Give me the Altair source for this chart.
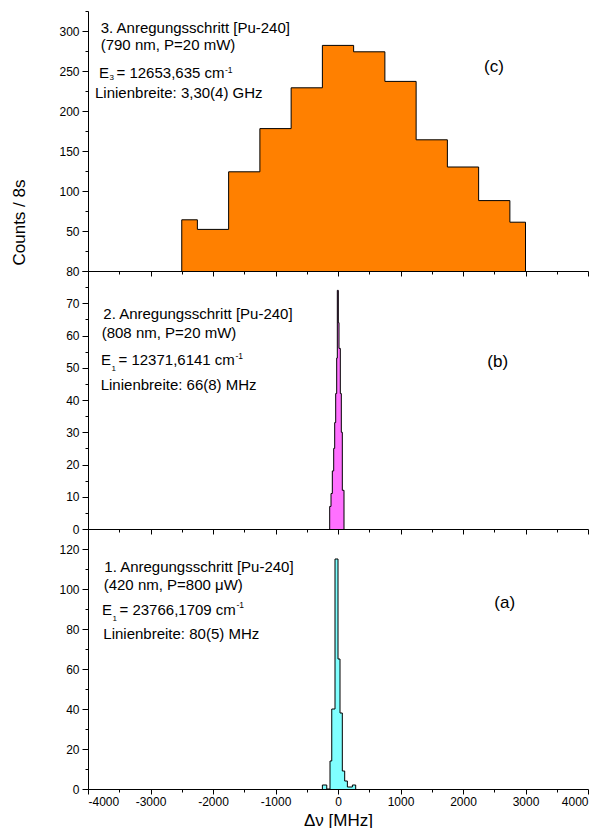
import altair as alt
import pandas as pd

# ---------------- data ----------------
# (c) 3. Anregungsschritt: bin edges [MHz] and counts
c_edges = [-2500, -2250, -1750, -1250, -750, -250, 250, 750, 1250, 1750, 2250, 2750, 3000]
c_counts = [64, 52, 124, 178, 229, 282, 274, 237, 164, 130, 88, 61]

# (b) 2. Anregungsschritt
b_edges = [-133, -112, -91, -69, -53, -37, -21, -11, 5, 16, 37, 53, 69, 96]
b_counts = [7, 11, 18, 25, 33, 42, 53, 74, 64, 56, 42, 30, 12]

# (a) 1. Anregungsschritt
a_edges = [-250, -180, -128, -100, -48, 0, 32, 69, 107, 150, 230, 283]
a_counts = [2, 0, 14, 40, 115, 65, 38, 9, 4, 1, 2]

x_ticks = list(range(-4000, 4001, 500))

# annotation texts: (x [MHz], y [counts], text, font size)
c_texts = [(-3797, 304, "3. Anregungsschritt [Pu-240]", 15),
           (-3797, 282, "(790 nm, P=20 mW)", 15),
           (-3824, 247.5, "E", 15),
           (-3656, 241, "3", 8),
           (-3544, 247.5, "= 12653,635 cm", 15),
           (-1810, 251, "-1", 8.5),
           (-3888, 222.5, "Linienbreite: 3,30(4) GHz", 15)]
c_label = (2496, 255, "(c)")

b_texts = [(-3755, 66.6, "2. Anregungsschritt [Pu-240]", 15),
           (-3781, 60.8, "(808 nm, P=20 mW)", 15),
           (-3792, 52.5, "E", 15),
           (-3624, 49.5, "1", 8),
           (-3512, 52.5, "= 12371,6141 cm", 15),
           (-1640, 53.6, "-1", 8.5),
           (-3797, 44.7, "Linienbreite: 66(8) MHz", 15)]
b_label = (2555, 51.9, "(b)")

a_texts = [(-3739, 110.8, "1. Anregungsschritt [Pu-240]", 15),
           (-3749, 102.1, "(420 nm, P=800 \u03bcW)", 15),
           (-3776, 89.3, "E", 15),
           (-3608, 85.0, "1", 8),
           (-3496, 89.3, "= 23766,1709 cm", 15),
           (-1624, 92.0, "-1", 8.5),
           (-3755, 77.5, "Linienbreite: 80(5) MHz", 15)]
a_label = (2667, 92.8, "(a)")

FONT = "Liberation Sans"


def panel(edges, counts, color, ymax, ystep, ymajor, height, texts, label,
          bottom=False, ytitle=False, hide_zero=False):
    area_df = pd.DataFrame({"x": edges, "y": counts + [counts[-1]]})
    line_df = pd.DataFrame({"x": [edges[0]] + edges,
                            "y": [0] + counts + [0],
                            "i": list(range(len(edges) + 1))})
    txt_df = pd.DataFrame(texts, columns=["x", "y", "t", "fs"])
    lab_df = pd.DataFrame([label], columns=["x", "y", "t"])

    xaxis = alt.Axis(
        values=x_ticks,
        tickSize={"condition": {"test": "datum.value % 1000 === 0", "value": 5}, "value": 3},
        labelExpr=("datum.value % 1000 === 0 ? '' + datum.value : ''" if bottom else "''"),
        labels=bottom,
        title="\u0394\u03bd [MHz]" if bottom else None,
        titleFontSize=17, titlePadding=5, labelPadding=2,
        grid=False,
    )
    yvals = list(range(0, ymax + 1, ystep))
    zero_test = " && datum.value > 0" if hide_zero else ""
    yargs = dict(
        values=yvals,
        tickSize={"condition": {"test": f"datum.value % {ymajor} === 0", "value": 6}, "value": 3},
        labelExpr=f"datum.value % {ymajor} === 0{zero_test} ? '' + datum.value : ''",
        labelPadding=3,
        grid=False,
    )
    if ytitle:
        yargs.update(title="Counts / 8s", titleX=-64, titleY=211, titleAngle=-90,
                     titleAlign="center", titleBaseline="alphabetic", titleFontSize=17)
    else:
        yargs.update(title=None)
    yaxis = alt.Axis(**yargs)

    X = alt.X("x:Q", scale=alt.Scale(domain=[-4000, 4000], nice=False, zero=False), axis=xaxis)
    Y = alt.Y("y:Q", scale=alt.Scale(domain=[0, ymax], nice=False, zero=True), axis=yaxis, stack=None)

    area = alt.Chart(area_df).mark_area(interpolate="step-after", color=color, opacity=1).encode(x=X, y=Y)
    line = alt.Chart(line_df).mark_line(interpolate="step-after", color="black", strokeWidth=1).encode(
        x=X, y=Y, order=alt.Order("i:Q"))
    txt = alt.Chart(txt_df).mark_text(align="left", baseline="middle", font=FONT, color="black").encode(
        x=X, y=Y, text="t:N", size=alt.Size("fs:Q", scale=None))
    lab = alt.Chart(lab_df).mark_text(align="center", baseline="middle", font=FONT, color="black",
                                      fontSize=17).encode(x=X, y=Y, text="t:N")
    return alt.layer(area, line, txt, lab).properties(width=500, height=height)


top = panel(c_edges, c_counts, "#FF8000", 325, 25, 50, 260, c_texts, c_label, ytitle=True, hide_zero=True)
mid = panel(b_edges, b_counts, "#FF70FF", 80, 5, 10, 258, b_texts, b_label)
bot = panel(a_edges, a_counts, "#80FFFF", 130, 10, 20, 260, a_texts, a_label, bottom=True)

chart = alt.vconcat(top, mid, bot, spacing=0, bounds="flush").properties(
    padding={"left": 2, "top": 2, "right": 0, "bottom": 0}
).configure_view(strokeWidth=0).configure_axis(
    labelFont=FONT, labelFontSize=12, labelColor="black",
    titleFont=FONT, titleFontWeight="normal", titleColor="black",
    tickColor="black", domainColor="black", domainWidth=1, tickWidth=1,
)

chart.save("out.html", embed_options={"renderer": "svg", "actions": False})
